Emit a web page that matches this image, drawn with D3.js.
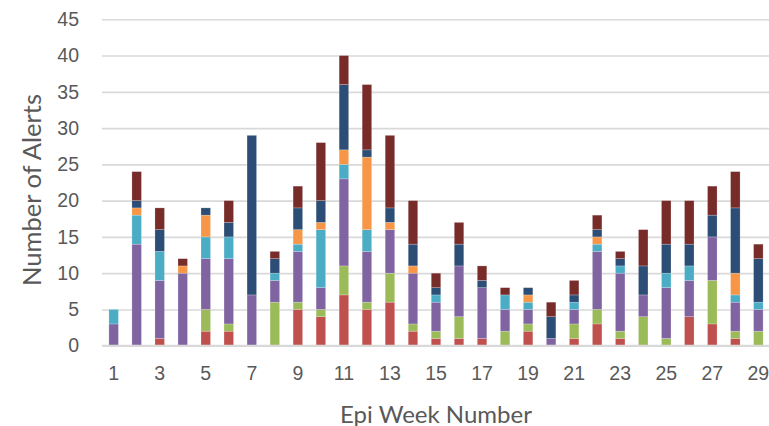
<!DOCTYPE html>
<html>
<head>
<meta charset="utf-8">
<script src="https://cdn.jsdelivr.net/npm/d3@7"></script>
<style>
  body { margin: 0; background: #fff; }
  svg { display: block; font-family: Lato, "Open Sans", sans-serif; }
  .tick text { fill: #595959; }
</style>
</head>
<body>
<svg width="769" height="426"></svg>
<script>
// epi weeks 1..29
var weeks = d3.range(1, 30);
var seriesNames = ["s1", "s2", "s3", "s4", "s5", "s6", "s7"];
var colors = ["#c0504d", "#9bbb59", "#8064a2", "#4bacc6", "#f79646", "#2c4d75", "#772c2a"];

var s1 = [0,0,1,0,2,2,0,0,5,4,7,5,6,2,1,1,1,0,2,0,1,3,1,0,0,4,3,1,0];
var s2 = [0,0,0,0,3,1,0,6,1,1,4,1,4,1,1,3,0,2,1,0,2,2,1,4,1,0,6,1,2];
var s3 = [3,14,8,10,7,9,7,3,7,3,12,7,6,7,4,7,7,3,2,1,2,8,8,3,7,5,6,4,3];
var s4 = [2,4,4,0,3,3,0,1,1,8,2,3,0,0,1,0,0,2,1,0,1,1,1,0,2,2,0,1,1];
var s5 = [0,1,0,1,3,0,0,0,2,1,2,10,1,1,0,0,0,0,1,0,0,1,0,0,0,0,0,3,0];
var s6 = [0,1,3,0,1,2,22,2,3,3,9,1,2,3,1,3,1,0,1,3,1,1,1,4,4,3,3,9,6];
var s7 = [0,4,3,1,0,3,0,1,3,8,4,9,10,6,2,3,2,1,0,2,2,2,1,5,6,6,4,5,2];

var yTicks = [0,5,10,15,20,25,30,35,40,45];
var xTickLabels = weeks.filter(function(w) { return w % 2 === 1; });

var all = [s1, s2, s3, s4, s5, s6, s7];
var rows = weeks.map(function(w, i) {
  var r = { week: w };
  seriesNames.forEach(function(n, k) { r[n] = all[k][i]; });
  return r;
});

var svg = d3.select("svg");

var x = d3.scaleBand().domain(weeks).range([102, 770])
  .paddingInner(0.587).paddingOuter(0.3);
var y = d3.scaleLinear().domain([0, 45]).range([345.7, 19.3]);

// gridlines + y labels
var gy = svg.append("g").attr("transform", "translate(102,0)")
  .call(d3.axisLeft(y).tickValues(yTicks).tickSize(-668).tickPadding(23));
gy.select(".domain").remove();
gy.selectAll(".tick line").attr("stroke", "#d9d9d9").attr("stroke-width", 1.6);
gy.selectAll(".tick text").attr("font-size", 19.5);

// bars
var stacked = d3.stack().keys(seriesNames)(rows);
svg.append("g").selectAll("g").data(stacked).enter().append("g")
    .attr("fill", function(d, i) { return colors[i]; })
  .selectAll("rect").data(function(d) { return d; }).enter().append("rect")
    .attr("x", function(d) { return x(d.data.week); })
    .attr("width", x.bandwidth())
    .attr("y", function(d) { return y(d[1]); })
    .attr("height", function(d) { return y(d[0]) - y(d[1]); })
    .attr("stroke", "#fff").attr("stroke-opacity", 0.35).attr("stroke-width", 0.6);

// x axis
var gx = svg.append("g").attr("transform", "translate(0,345.7)")
  .call(d3.axisBottom(x).tickValues(xTickLabels).tickSize(0).tickPadding(20));
gx.select(".domain").attr("stroke", "#d9d9d9").attr("stroke-width", 2)
  .attr("d", "M102,0H770");
gx.selectAll(".tick text").attr("font-size", 19.5);

// axis titles
svg.append("text")
  .attr("transform", "translate(41,190) rotate(-90)")
  .attr("text-anchor", "middle")
  .attr("fill", "#595959").attr("font-size", 25.5)
  .text("Number of Alerts");

svg.append("text")
  .attr("x", 436).attr("y", 423)
  .attr("text-anchor", "middle")
  .attr("fill", "#595959").attr("font-size", 24)
  .text("Epi Week Number");
</script>
</body>
</html>
